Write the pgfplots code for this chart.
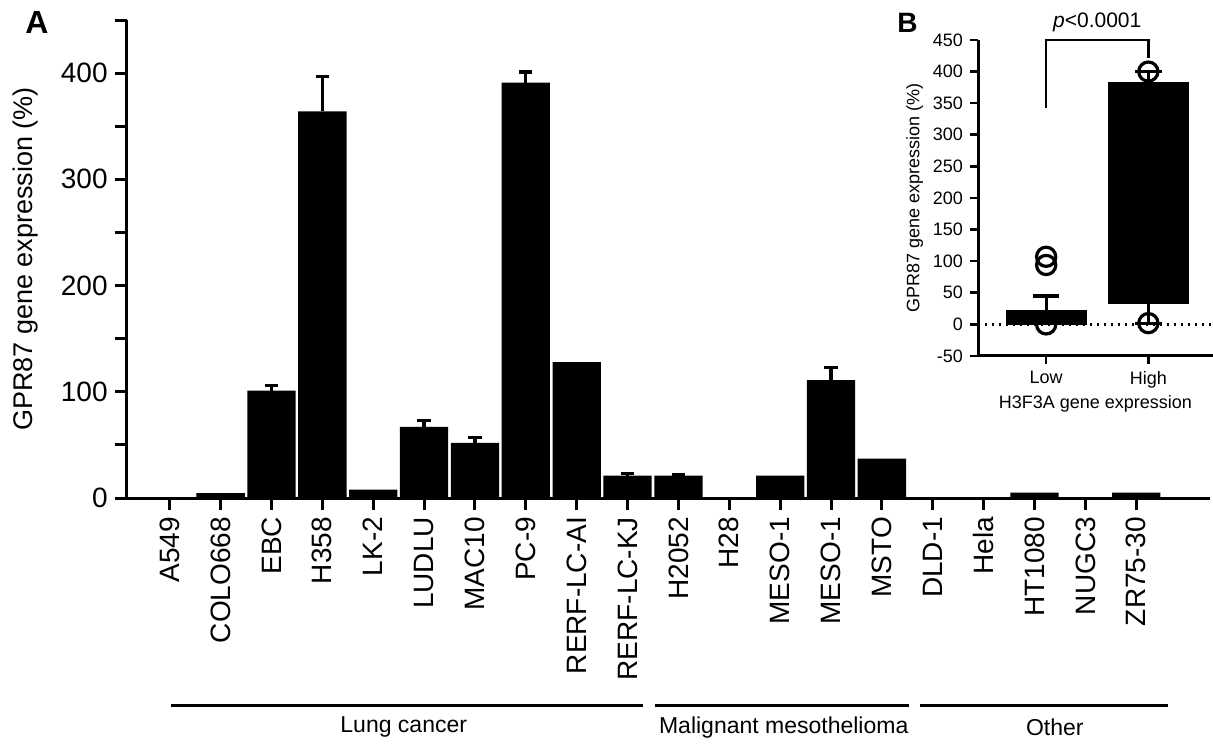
\documentclass[border=0pt]{standalone}
\usepackage{fontspec}
\setmainfont{Liberation Sans}
\usepackage{pgfplots}
\pgfplotsset{compat=1.18}

% cell lines, index 0..19
\pgfplotstableread{
x  y
0  0
1  4.5
2  101
3  364
4  8
5  67
6  52
7  391
8  128
9  21
10 21
11 0
12 21
13 111
14 37
15 0
16 0
17 5
18 0
19 5
}\expdata

\pgfplotstableread{
x  y    e
2  101  5
3  364  33
5  67   6
6  52   5
7  391  10
9  21   2
10 21   1
13 111  12
}\experr

\begin{document}
\begin{tikzpicture}
\begin{axis}[
  at={(0pt,0pt)}, anchor=south west,
  scale only axis, width=541.65pt, height=239pt,
  xmin=-0.846, xmax=20.45, ymin=0, ymax=450,
  axis lines*=left,
  axis line style={line width=1.5pt},
  tick align=outside, major tick length=6pt, minor tick length=6pt,
  tick style={line width=1.5pt, black},
  xtick={0,...,19},
  xticklabels={A549,COLO668,EBC,H358,LK-2,LUDLU,MAC10,PC-9,RERF-LC-AI,RERF-LC-KJ,H2052,H28,MESO-1,MESO-1,MSTO,DLD-1,Hela,HT1080,NUGC3,ZR75-30},
  x tick label style={rotate=90, anchor=east, font=\fontsize{14}{16}\selectfont},
  ytick={0,100,...,400}, minor ytick={50,150,...,450},
  y tick label style={font=\fontsize{14}{16}\selectfont},
  /pgf/number format/assume math mode=true,
  ylabel={GPR87 gene expression (\%)},
  ylabel style={font=\fontsize{13.5}{16}\selectfont, at={(rel axis cs:-0.0938,0.5)}, anchor=center},
  clip=false,
]
\addplot[ybar, bar width=0.95, fill=black, draw=none] table[x=x, y=y] {\expdata};
\addplot[draw=none, forget plot,
  error bars/.cd, y dir=plus, y explicit, error mark=|,
  error bar style={line width=1.6pt, black},
  error mark options={draw=black, line width=1.6pt, mark size=3.3pt}]
  table[x=x, y=y, y error=e] {\experr};
% group brackets
\draw[line width=1.5pt] (axis cs:0.03,-195) -- (axis cs:9.31,-195);
\draw[line width=1.5pt] (axis cs:9.53,-195) -- (axis cs:14.53,-195);
\draw[line width=1.5pt] (axis cs:14.75,-195) -- (axis cs:19.63,-195);
\node[font=\fontsize{11.5}{13}\selectfont] at (axis cs:4.6,-216) {Lung cancer};
\node[font=\fontsize{11.5}{13}\selectfont] at (axis cs:12.07,-216) {Malignant mesothelioma};
\node[font=\fontsize{11.5}{13}\selectfont] at (axis cs:17.4,-216) {Other};
\end{axis}

\node[font=\bfseries\fontsize{16}{18}\selectfont] at (-44.85pt,238pt) {A};
\node[font=\bfseries\fontsize{14}{16}\selectfont] at (390.4pt,237.5pt) {B};

\begin{axis}[
  at={(425.65pt,71pt)}, anchor=south west,
  scale only axis, width=117.35pt, height=158pt,
  xmin=0.333, xmax=2.63, ymin=-50, ymax=450,
  axis lines*=left,
  axis line style={line width=1.5pt},
  tick align=outside, major tick length=4pt,
  tick style={line width=1.3pt, black},
  xtick={1,2}, xticklabels={Low,High},
  ytick={-50,0,...,450},
  ticklabel style={font=\fontsize{9}{10}\selectfont},
  /pgf/number format/assume math mode=true,
  xlabel={H3F3A gene expression},
  xlabel style={font=\fontsize{9}{10}\selectfont, yshift=3pt},
  ylabel={GPR87 gene expression (\%)},
  ylabel style={font=\fontsize{9}{10}\selectfont, yshift=-2pt},
  clip=false,
]
\addplot[black, line width=1.2pt, dash pattern=on 1.2pt off 2.3pt] coordinates {(0.333,0) (2.63,0)};
% boxes: Low 0-22, High 33-382
\addplot[fill=black, draw=black, line width=0.5pt] coordinates {(0.61,0) (1.39,0) (1.39,22) (0.61,22) (0.61,0)};
\addplot[fill=black, draw=black, line width=0.5pt] coordinates {(1.61,33) (2.39,33) (2.39,382) (1.61,382) (1.61,33)};
% whiskers and caps
\addplot[black, line width=1.6pt] coordinates {(1,22) (1,45)};
\addplot[black, line width=1.6pt] coordinates {(0.87,45) (1.13,45)};
\addplot[black, line width=1.6pt] coordinates {(2,382) (2,400)};
\addplot[black, line width=1.6pt] coordinates {(1.87,400) (2.13,400)};
\addplot[black, line width=1.6pt] coordinates {(2,33) (2,2)};
\addplot[black, line width=1.6pt] coordinates {(1.87,2) (2.13,2)};
\addplot[only marks, mark=o, mark size=4.8pt, line width=1.6pt, black] coordinates {(1,0) (1,94) (1,107) (2,2) (2,400)};
\draw[line width=1.3pt] (axis cs:1,342) -- (axis cs:1,450) -- (axis cs:2,450) -- (axis cs:2,422);
\node[font=\fontsize{10.5}{12}\selectfont] at (axis cs:1.5,478) {\textit{p}<0.0001};
\end{axis}

\pgfresetboundingbox
\path[use as bounding box] (-63.35pt,-125.5pt) rectangle (543.15pt,249pt);
\end{tikzpicture}
\end{document}
